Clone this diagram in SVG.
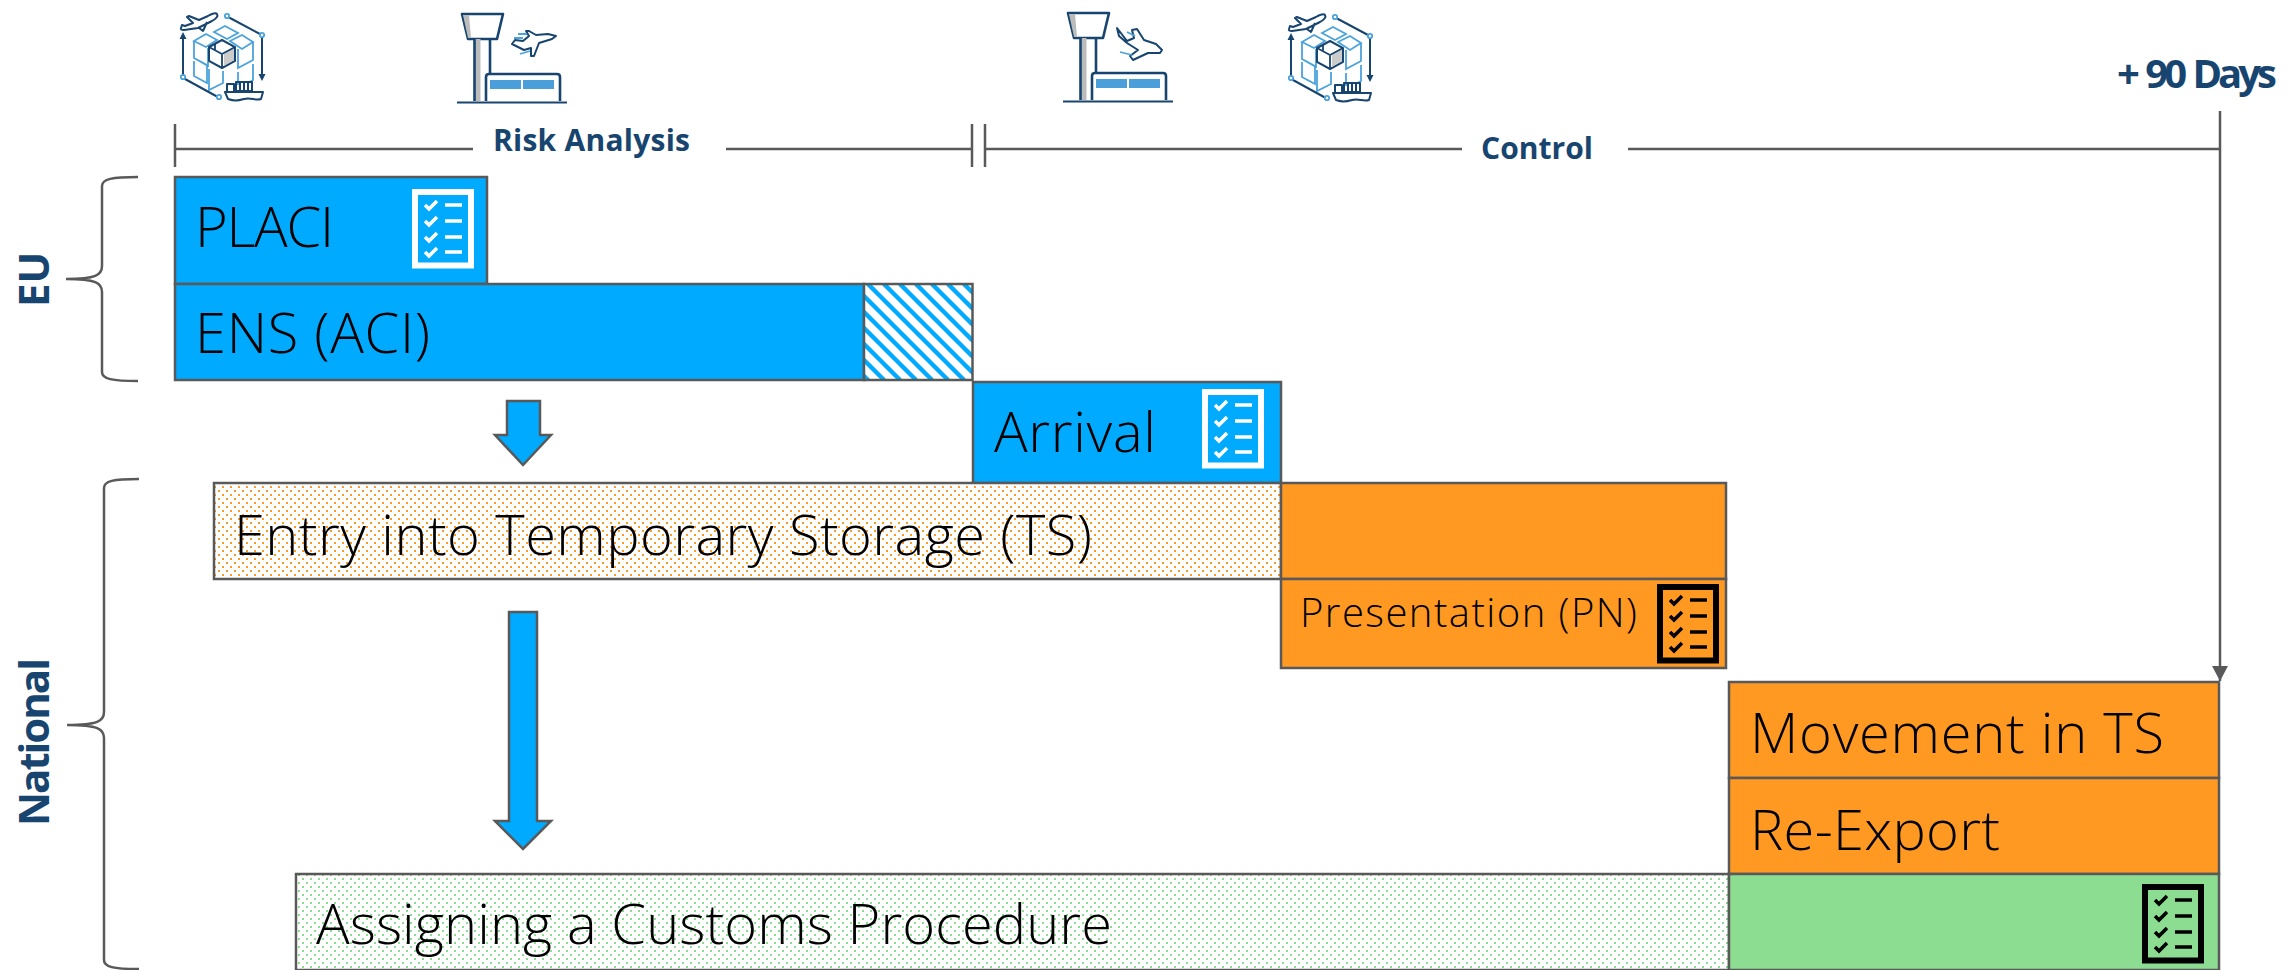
<svg xmlns="http://www.w3.org/2000/svg" width="2292" height="970" viewBox="0 0 2292 970">
<style>
.b{stroke:#595959;stroke-width:2.5}
.blue{fill:#00aaff}.or{fill:#ff9922}.gr{fill:#8cdd92}
.l{font-family:"Open Sans","Liberation Sans",sans-serif;font-weight:300;font-size:56px;fill:#000}
.h{font-family:"Open Sans","Liberation Sans",sans-serif;font-weight:700;fill:#17456f}
.ln{fill:none;stroke:#595959;stroke-width:2.5}
.nv{fill:none;stroke:#17456f;stroke-width:2;stroke-linejoin:round;stroke-linecap:round}
.lb{fill:none;stroke:#4ba3dc;stroke-width:1.8}
.w{fill:#4a9fdb}
</style>
<defs>
<pattern id="po" width="8" height="8" patternUnits="userSpaceOnUse"><rect width="8" height="8" fill="#fff"/><rect x="2" y="2" width="2" height="2" fill="#ff9922"/><rect x="6" y="6" width="2" height="2" fill="#ff9922"/></pattern>
<pattern id="pg" width="8" height="8" patternUnits="userSpaceOnUse"><rect width="8" height="8" fill="#fff"/><rect x="2" y="2" width="2" height="2" fill="#8cdd92"/><rect x="6" y="6" width="2" height="2" fill="#8cdd92"/></pattern>
<pattern id="ph" width="16" height="16" patternUnits="userSpaceOnUse"><rect width="16" height="16" fill="#fff"/><path d="M-4 4L12 20M4 -4L20 12M-12 -4L4 12M12 -12L28 4" stroke="#00aaff" stroke-width="4.4" fill="none"/></pattern>
<marker id="ah" markerWidth="16" markerHeight="16" refX="15" refY="8" orient="auto" markerUnits="userSpaceOnUse"><path d="M0 0L15 8L0 16Z" fill="#595959"/></marker>
<symbol id="chk" width="62" height="80" viewBox="0 0 62 80" overflow="visible">
<rect x="3" y="3" width="56" height="73.500" fill="none" stroke="currentColor" stroke-width="6"/>
<g fill="none" stroke="currentColor" stroke-width="3.500">
<path d="M13 16l4 4 8-8M13 32l4 4 8-8M13 48l4 4 8-8M13 63l4 4 8-8"/>
<path d="M33 16h17M33 32h17M33 48h17M33 63h17"/>
</g></symbol>
<symbol id="wh" width="110" height="100" viewBox="0 0 110 100" overflow="visible">
<g class="lb">
<path d="M24 36L36 29 47 35 36 42ZM44 27L55 21 68 28 57 34ZM60 36L72 30 83 37 72 44Z"/>
<path d="M24 36V53L38 61V43M24 56V71L37 78V60L24 53M39 64V85L53 78V66M83 37V55L68 63V44M83 59V75L78 78M68 67V80"/>
</g>
<path d="M11 23Q10 25 14 25L28 23 42 16Q49 12 47 9 45 7 38 11L29 15 19 11 17 12 23 18 15 21 12 20ZM29 23L33 26 37 17" fill="#fff" stroke="#17456f" stroke-width="2" stroke-linejoin="round"/>
<path class="nv" d="M13 33V70M15 74L46 91M60 13L90 29M92 33V72"/>
<path d="M13 27l-3.500 7h7zM92 76l-3.500-7h7z" fill="#17456f"/>
<g class="lb"><circle cx="13" cy="72" r="2.200"/><circle cx="49" cy="92" r="2.200"/><circle cx="57" cy="11" r="2.200"/><circle cx="92" cy="30" r="2.200"/></g>
<path d="M39 42L52 35 65 42V56L52 63 39 56Z" fill="#fff" stroke="#17456f" stroke-width="2"/>
<path d="M54 49L64 43V55L54 61Z" fill="#ccc"/>
<path d="M39 42L52 49 65 42M52 49V63M45 39V45" fill="none" stroke="#17456f" stroke-width="1.800"/>
<path class="nv" d="M57 86V79h7v7M66 77h16v9h-16zM70 78v7M74 78v7M78 78v7M55 87h38l-2 7c-6 2-10-2-17 0s-10 2-16 0z"/>
</symbol>
<symbol id="tw" width="112" height="92" viewBox="0 0 112 92" overflow="visible">
<path d="M5 2H46L40 27H11Z" fill="#fff" stroke="#17456f" stroke-width="2.600" stroke-linejoin="round"/>
<path d="M6 3H12L14 26H11Z" fill="#bbb"/>
<rect x="17.500" y="27" width="6" height="62" fill="#bbb"/>
<path d="M17.500 27V89M33 27V62" fill="none" stroke="#17456f" stroke-width="2.600"/>
<path d="M29 89V65q0-3 3-3H100q3 0 3 3V89" fill="#fff" stroke="#17456f" stroke-width="2.600"/>
<rect class="w" x="33" y="68" width="31" height="9"/><rect class="w" x="66" y="68" width="31" height="9"/>
<path d="M0 90.500H110" stroke="#17456f" stroke-width="2"/>
</symbol>
</defs>

<g id="connectors">
<path class="ln" d="M175 124V167M175 149H473M726 149H972M972 124V167M985 124V167M985 149H1462M1628 149H2220"/>
<path class="ln" d="M2220 111V681" marker-end="url(#ah)"/>
<path class="ln" d="M138 177C112 177 102 179 102 186V266C102 275 96 279 66 279C96 279 102 283 102 292V372C102 379 112 381 138 381"/>
<path class="ln" d="M139 479C113 479 104 481 104 488V712C104 721 98 725 67 725C98 725 104 729 104 738V960C104 967 113 969 139 969"/>
<path class="blue" stroke="#595959" stroke-width="2.500" d="M507 401H540V435H551L523 465L495 435H507Z"/>
<path class="blue" stroke="#595959" stroke-width="2.500" d="M509 612H537V821H551L523 849L495 821H509Z"/>
</g>

<g id="icons">
<use href="#wh" x="170" y="5"/>
<use href="#wh" x="1278" y="6"/>
<use href="#tw" x="457" y="12"/>
<use href="#tw" x="1063" y="11"/>
<path class="nv" d="M512 44l3-4 8 1 6-5-3-5 3 0 7 4 12-1 8 2-4 3-13 4-5 13-3 0 0-8-7 2z"/>
<path class="lb" d="M514 38h9M518 34h9M520 54l10-3"/>
<path class="nv" d="M1117 28l2 8 8 7 11 7-8 6 3 4 15-7 12 0 2-3-6-6-12-4-7-11-5 1 2 8-7 3z"/>
<path class="lb" d="M1127 32l8 4M1120 52l12 3"/>
</g>

<g id="lbl-risk"><text class="h" x="493" y="151" font-size="30" textLength="197">Risk Analysis</text></g>
<g id="lbl-control"><text class="h" x="1481" y="159" font-size="30" textLength="112">Control</text></g>
<g id="lbl-days"><text class="h" x="2117" y="88" font-size="40" letter-spacing="-4" word-spacing="3">+ 90 Days</text></g>
<g id="lbl-eu"><text class="h" transform="translate(49 307) rotate(-90)" font-size="42">EU</text></g>
<g id="lbl-national"><text class="h" transform="translate(49 826) rotate(-90)" font-size="42" textLength="168">National</text></g>

<g id="placi"><rect class="b blue" x="175" y="177" width="312" height="107"/><text class="l" x="195" y="247" textLength="139">PLACI</text><use href="#chk" x="412" y="189" color="#fff"/></g>
<g id="ens"><rect class="b blue" x="175" y="284" width="689" height="96"/><text class="l" x="195" y="353" textLength="235">ENS (ACI)</text></g>
<g id="ens-hatch"><rect class="b" x="864" y="284" width="108.500" height="96" fill="url(#ph)"/></g>
<g id="arrival"><rect class="b blue" x="973" y="382" width="308" height="101"/><text class="l" x="994" y="452" textLength="162">Arrival</text><use href="#chk" x="1202" y="389" color="#fff"/></g>
<g id="ts"><rect class="b" x="214" y="483" width="1067" height="96" fill="url(#po)"/><text class="l" x="234" y="555" textLength="858">Entry into Temporary Storage (TS)</text></g>
<g id="ts-solid"><rect class="b or" x="1281" y="483" width="445" height="96"/></g>
<g id="pn"><rect class="b or" x="1281" y="579" width="445" height="89"/><text class="l" x="1300" y="627" style="font-size:40px" textLength="337">Presentation (PN)</text><use href="#chk" x="1657" y="584" color="#000"/></g>
<g id="movement"><rect class="b or" x="1729" y="682" width="490" height="96"/><text class="l" x="1750" y="753" textLength="414">Movement in TS</text></g>
<g id="reexport"><rect class="b or" x="1729" y="778" width="490" height="96"/><text class="l" x="1750" y="850" textLength="250">Re-Export</text></g>
<g id="assign"><rect class="b" x="296" y="874" width="1433" height="96" fill="url(#pg)"/><text class="l" x="316" y="944" textLength="796">Assigning a Customs Procedure</text></g>
<g id="assign-solid"><rect class="b gr" x="1729" y="874" width="490" height="96"/><use href="#chk" x="2142" y="884" color="#000"/></g>
</svg>
